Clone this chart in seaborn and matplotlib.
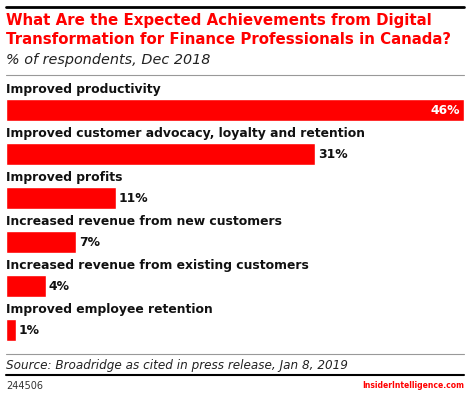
import matplotlib
matplotlib.use('Agg')
import matplotlib.pyplot as plt
import seaborn as sns
import pandas as pd
from matplotlib.lines import Line2D

categories = ['Improved productivity',
              'Improved customer advocacy, loyalty and retention',
              'Improved profits',
              'Increased revenue from new customers',
              'Increased revenue from existing customers',
              'Improved employee retention']
values = [46, 31, 11, 7, 4, 1]

df = pd.DataFrame({'category': categories, 'value': values})

sns.set_style('white')
plt.rcParams['font.family'] = ['DejaVu Sans']

W, H = 470, 396
fig = plt.figure(figsize=(W / 100, H / 100), dpi=100)

def fx(px):
    return px / W

def fy(py):
    return 1 - py / H

ax = fig.add_axes([fx(6), fy(352), fx(458), (352 - 88) / H])
sns.barplot(data=df, x='value', y='category', color='#ff0000', width=0.5,
            saturation=1, ax=ax)
ax.set_xlim(0, 46)
ax.set_ylim(len(categories) - 0.5, -0.5)
ax.axis('off')

for i, (cat, v) in enumerate(zip(categories, values)):
    ax.text(0, i - 0.46, cat, ha='left', va='center', fontsize=8.95,
            fontweight='bold', color='#111111')
    if i == 0:
        ax.text(v - 0.4, i, f'{v}%', ha='right', va='center', fontsize=8.95,
                fontweight='bold', color='white')
    else:
        ax.text(v + 0.3, i, f'{v}%', ha='left', va='center', fontsize=8.95,
                fontweight='bold', color='#111111')

# header
fig.add_artist(Line2D([fx(6), fx(464)], [fy(7), fy(7)], color='black', lw=2))
fig.text(fx(6), fy(20), 'What Are the Expected Achievements from Digital',
         color='#ff0000', fontsize=10.8, fontweight='bold', va='center')
fig.text(fx(6), fy(40), 'Transformation for Finance Professionals in Canada?',
         color='#ff0000', fontsize=10.8, fontweight='bold', va='center')
fig.text(fx(6), fy(60), '% of respondents, Dec 2018', color='#222222',
         fontsize=10.4, style='italic', va='center')
fig.add_artist(Line2D([fx(6), fx(464)], [fy(75), fy(75)], color='#999999', lw=0.8))

# footer
fig.add_artist(Line2D([fx(6), fx(464)], [fy(354), fy(354)], color='#999999', lw=0.8))
fig.text(fx(6), fy(365), 'Source: Broadridge as cited in press release, Jan 8, 2019',
         color='#222222', fontsize=8.65, style='italic', va='center')
fig.add_artist(Line2D([fx(6), fx(464)], [fy(375), fy(375)], color='black', lw=1.5))
fig.text(fx(6), fy(386), '244506', color='#333333', fontsize=7, va='center')
fig.text(fx(464), fy(386), 'InsiderIntelligence.com', color='#ff0000',
         fontsize=5.5, fontweight='bold', va='center', ha='right')

fig.savefig('out.png', dpi=100)
